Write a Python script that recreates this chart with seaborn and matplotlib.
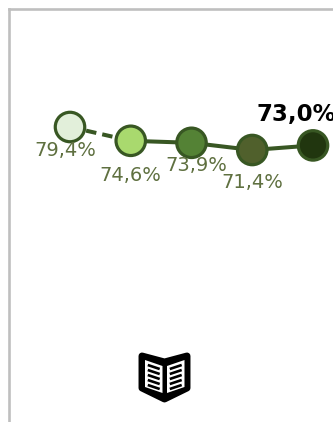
import matplotlib
matplotlib.use('Agg')
import matplotlib.pyplot as plt
from matplotlib.patches import Polygon
import seaborn as sns
import numpy as np

# values
positions = [0, 1, 2, 3, 4]
values = [79.4, 74.6, 73.9, 71.4, 73.0]
labels = ['79,4%', '74,6%', '73,9%', '71,4%', '73,0%']
fill_colors = ['#e2efda', '#a9d96e', '#548235', '#50602c', '#21360f']

sns.set_theme(style='white')
plt.rcParams['font.family'] = ['DejaVu Sans']

W, H = 333, 422
fig = plt.figure(figsize=(W / 100, H / 100), dpi=100)
# frame only shows left and top, starts 9px in
ax = fig.add_axes([9 / W, 0, (W - 9) / W, (H - 9) / H])

px_per_step = 60.75
px_per_pct = 2.875
ax.set_xlim((9 - 70) / px_per_step, (W - 70) / px_per_step)
ax.set_ylim(79.4 - (H - 127) / px_per_pct, 79.4 - (9 - 127) / px_per_pct)

line_color = '#385723'
sns.lineplot(x=positions[:2], y=values[:2], ax=ax, color=line_color, linewidth=2.9,
             linestyle=(0, (2.6, 1.5)), zorder=2)
sns.lineplot(x=positions[1:], y=values[1:], ax=ax, color=line_color, linewidth=2.9, zorder=2)
sns.scatterplot(x=positions, y=values, hue=labels, palette=fill_colors, ax=ax, s=450,
                edgecolor=line_color, linewidth=2.3, legend=False, zorder=3, clip_on=False)

# label offsets from the point, in pixels
offsets = [(-5, -24), (0, -35), (5, -23), (0, -32), (-56, 31)]
for i in range(len(values)):
    dx, dy = offsets[i]
    bold = i == len(values) - 1
    ax.annotate(labels[i], (positions[i], values[i]),
                xytext=(dx * 0.72, dy * 0.72), textcoords='offset points',
                ha='left' if bold else 'center', va='center',
                fontsize=16.5 if bold else 14,
                fontweight='bold' if bold else 'normal',
                color='black' if bold else '#5f7040', zorder=4)

ax.set_xticks([])
ax.set_yticks([])
ax.set_xlabel('')
ax.set_ylabel('')
for side in ['right', 'bottom']:
    ax.spines[side].set_visible(False)
for side in ['left', 'top']:
    ax.spines[side].set_color('#bfbfbf')
    ax.spines[side].set_linewidth(1.9)

# open book icon, drawn on its own small axes in pixel units
icon = fig.add_axes([130 / W, 1 - 410 / H, 70 / W, 70 / H])
icon.set_xlim(130, 200)
icon.set_ylim(410, 340)
icon.axis('off')
outer = [(142, 356), (164.5, 362), (187, 356), (187, 388), (164.5, 399), (142, 388)]
icon.add_patch(Polygon(outer, closed=True, facecolor='black', edgecolor='black',
                       linewidth=5, joinstyle='round'))
for x0, x1 in [(145, 162.5), (184.5, 167)]:
    icon.add_patch(Polygon([(x0, 360), (x1, 366), (x1, 393), (x0, 387)], closed=True,
                           facecolor='white', edgecolor='none'))
    for k in range(5):
        y0 = 364 + k * 5
        icon.plot([x0 + (x1 - x0) * 0.16, x0 + (x1 - x0) * 0.84],
                  [y0 + 1, y0 + 5], color='black', linewidth=1.9, solid_capstyle='butt')

fig.savefig('out.png', dpi=100)
